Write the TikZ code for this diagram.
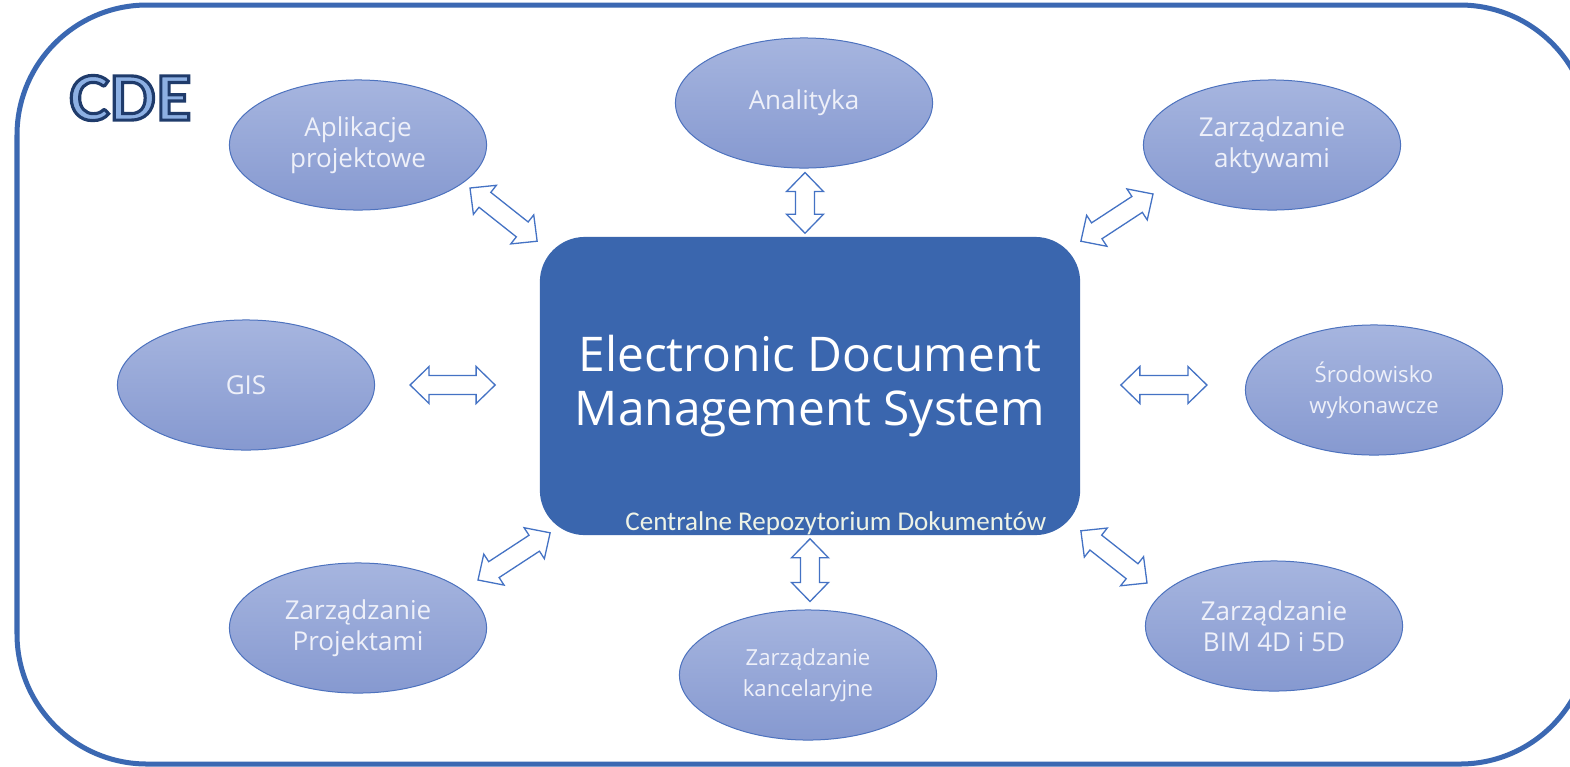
\documentclass[tikz,border=0pt]{standalone}
\usepackage{fontspec}
\setmainfont{Open Sans}
\newfontfamily\cdefont{Lato}
\newfontfamily\footfont{Carlito}
\usetikzlibrary{shapes.geometric,calc}

\definecolor{framecol}{HTML}{3B68B2}
\definecolor{hubcol}{HTML}{3A66AE}
\definecolor{elltop}{HTML}{A6B5DF}
\definecolor{ellbot}{HTML}{8699D0}
\definecolor{ellline}{HTML}{4D72BE}
\definecolor{elltext}{HTML}{EEF0F9}
\definecolor{arrowcol}{HTML}{4472C4}
\definecolor{cdefill}{HTML}{8DB0E3}
\definecolor{footcol}{HTML}{EEF3E6}

\tikzset{
  module/.style={ellipse, draw=ellline, line width=0.01cm, top color=elltop, bottom color=ellbot,
    text=elltext, minimum width=2.57cm, minimum height=1.3cm, inner sep=0pt, align=center,
    font=\fontsize{7.4pt}{8.8pt}\selectfont},
  smallmodule/.style={module, font=\fontsize{6.3pt}{8.8pt}\selectfont},
  hub/.style={rectangle, rounded corners=0.45cm, fill=hubcol, minimum width=5.4cm, minimum height=2.98cm,
    text=white, align=center, font=\fontsize{13.6pt}{15.6pt}\selectfont},
  repo/.style={text=footcol, inner sep=0pt, font=\footfont\fontsize{7.7pt}{9pt}\selectfont},
  arrowline/.style={draw=arrowcol, fill=white, line width=0.013cm, line join=miter}
}

% outlined letters (fill + stroke)
\newcommand{\outlinetext}[1]{\special{pdf:literal direct 2 Tr 0.9 w 0.12 0.23 0.42 RG}#1\special{pdf:literal direct 0 Tr}}

% hollow double block arrow between two named coordinates
\newcommand{\blockarrow}[2]{%
  \draw[arrowline] (#1)
    -- ($(#1)!0.19cm!(#2)!0.185cm!90:(#2)$) -- ($(#1)!0.19cm!(#2)!0.095cm!90:(#2)$)
    -- ($(#2)!0.19cm!(#1)!0.095cm!-90:(#1)$) -- ($(#2)!0.19cm!(#1)!0.185cm!-90:(#1)$)
    -- (#2)
    -- ($(#2)!0.19cm!(#1)!0.185cm!90:(#1)$) -- ($(#2)!0.19cm!(#1)!0.095cm!90:(#1)$)
    -- ($(#1)!0.19cm!(#2)!0.095cm!-90:(#2)$) -- ($(#1)!0.19cm!(#2)!0.185cm!-90:(#2)$)
    -- cycle;}

\begin{document}
\begin{tikzpicture}[x=0.01cm, y=-0.01cm]
  \useasboundingbox (0,0) rectangle (1570,766);
  \fill[white] (0,0) rectangle (1570,766);
  \begin{scope}
    \clip (0,0) rectangle (1570,766);
    \draw[framecol, line width=0.05cm, rounded corners=1.3cm] (17,5) rectangle (1590,764);
  \end{scope}

  \node[font={\cdefont\fontsize{17.4pt}{20pt}\selectfont\bfseries}, text=cdefill, inner sep=0pt] (cde) at (130,98) {\outlinetext{CDE}};

  % central repository
  \node[hub] (edms) at (810,386) {Electronic Document\\Management System};
  \node[repo, anchor=base east] (repotext) at ($(edms.south east)+(-34,-5)$) {Centralne Repozytorium Dokumentów};

  % modules
  \node[module] (apps) at (358,145) {Aplikacje\\projektowe};
  \node[module] (analytics) at (804,103) {Analityka};
  \node[module] (assets) at (1272,145) {Zarządzanie\\aktywami};
  \node[module] (gis) at (246,385) {GIS};
  \node[smallmodule] (execution) at (1374,390) {Środowisko\\wykonawcze};
  \node[module] (projects) at (358,628) {Zarządzanie\\Projektami};
  \node[smallmodule] (office) at (808,675) {Zarządzanie\\kancelaryjne};
  \node[module] (bim) at (1274,626) {Zarządzanie\\BIM 4D i 5D};

  % arrow ends
  \coordinate (apps-end) at ($(apps)+(112,43)$);
  \coordinate (apps-hub) at ($(edms.north west)+(-2,5)$);
  \coordinate (analytics-end) at ($(analytics.south)+(1,4)$);
  \coordinate (analytics-hub) at ($(edms.north)+(-5,-3)$);
  \coordinate (assets-end) at ($(assets)+(-119,49)$);
  \coordinate (assets-hub) at ($(edms.north east)+(0,5)$);
  \coordinate (gis-end) at ($(gis.east)+(35,0)$);
  \coordinate (gis-hub) at ($(edms.west)+(-44,-1)$);
  \coordinate (execution-end) at ($(execution.west)+(-38,-5)$);
  \coordinate (execution-hub) at ($(edms.east)+(40,-1)$);
  \coordinate (projects-end) at ($(projects)+(120,-48)$);
  \coordinate (projects-hub) at ($(edms.south west)+(11,-3)$);
  \coordinate (office-end) at ($(office.north)+(2,-8)$);
  \coordinate (office-hub) at ($(edms.south)+(0,3)$);
  \coordinate (bim-end) at ($(bim)+(-127,-43)$);
  \coordinate (bim-hub) at ($(edms.south east)+(0,-5)$);

  \foreach \m in {apps,analytics,assets,gis,execution,projects,office,bim}
    \blockarrow{\m-end}{\m-hub};
\end{tikzpicture}
\end{document}
